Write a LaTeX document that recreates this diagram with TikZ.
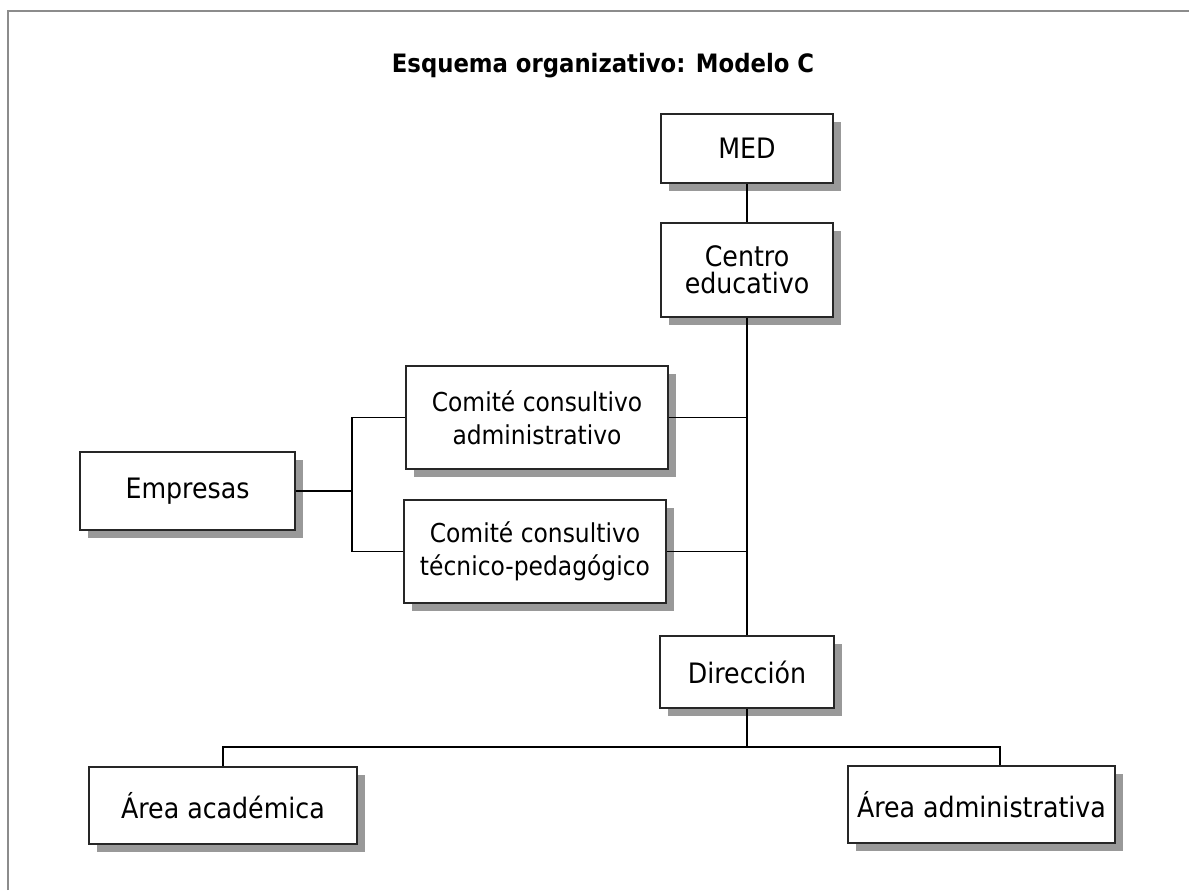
\documentclass[tikz,border=0pt]{standalone}
\usepackage{fontspec}
\setmainfont{DejaVu Sans Condensed}
\usetikzlibrary{shadows}
\definecolor{framegray}{HTML}{8C8C8C}
\definecolor{shadegray}{HTML}{999999}

\begin{document}
\begin{tikzpicture}[x=0.025cm, y=-0.025cm,
	orgbox/.style={draw=black!85, line width=1.1pt, fill=white, align=center, inner sep=0pt,
		drop shadow={shadow xshift=0.2cm, shadow yshift=-0.2cm, fill=shadegray, opacity=1},
		font=\fontsize{20}{19.5}\selectfont},
	smallbox/.style={orgbox, font=\fontsize{18.5}{23.5}\selectfont},
	link/.style={line width=1pt, black}]

\useasboundingbox (0,0) rectangle (1189,890);
\draw[framegray, line width=1.4pt] (8,890) -- (8,11) -- (1189,11);

\node[font=\bfseries\fontsize{18}{20}\selectfont, anchor=base] (title) at (603,72) {Esquema organizativo: Modelo C};

% boxes
\node[orgbox, minimum width=4.3cm, minimum height=1.725cm] (med) at (747,148.5) {MED};
\node[orgbox, minimum width=4.3cm, minimum height=2.35cm] (centro) at (747,270) {Centro\\educativo};
\node[smallbox, minimum width=6.55cm, minimum height=2.575cm] (cadm) at (537,417.5) {Comité consultivo\\administrativo};
\node[smallbox, minimum width=6.55cm, minimum height=2.575cm] (ctec) at (535,551.5) {Comité consultivo\\técnico-pedagógico};
\node[orgbox, minimum width=5.375cm, minimum height=1.95cm] (empresas) at (187.5,491) {Empresas};
\node[orgbox, minimum width=4.35cm, minimum height=1.8cm] (direccion) at (747,672) {Dirección};
\node[orgbox, minimum width=6.7cm, minimum height=1.925cm] (acad) at (223,805.5) {Área académica};
\node[orgbox, minimum width=6.675cm, minimum height=1.925cm] (admin) at (981.5,804.5) {Área administrativa};

\coordinate (fork) at (352,491);
\coordinate (bar) at (747,747);

% connectors
\draw[link] (med) -- (centro);
\draw[link] (centro) -- (direccion);
\draw[link] (cadm.east) -- (cadm.east -| centro.south);
\draw[link] (ctec.east) -- (ctec.east -| centro.south);
\draw[link] (empresas.east) -- (fork);
\draw[link] (cadm.west) -| (fork) |- (ctec.west);
\draw[link] (direccion) -- (bar);
\draw[link] (acad.north) |- (bar) -| ([xshift=0.46cm]admin.north);

\end{tikzpicture}
\end{document}
